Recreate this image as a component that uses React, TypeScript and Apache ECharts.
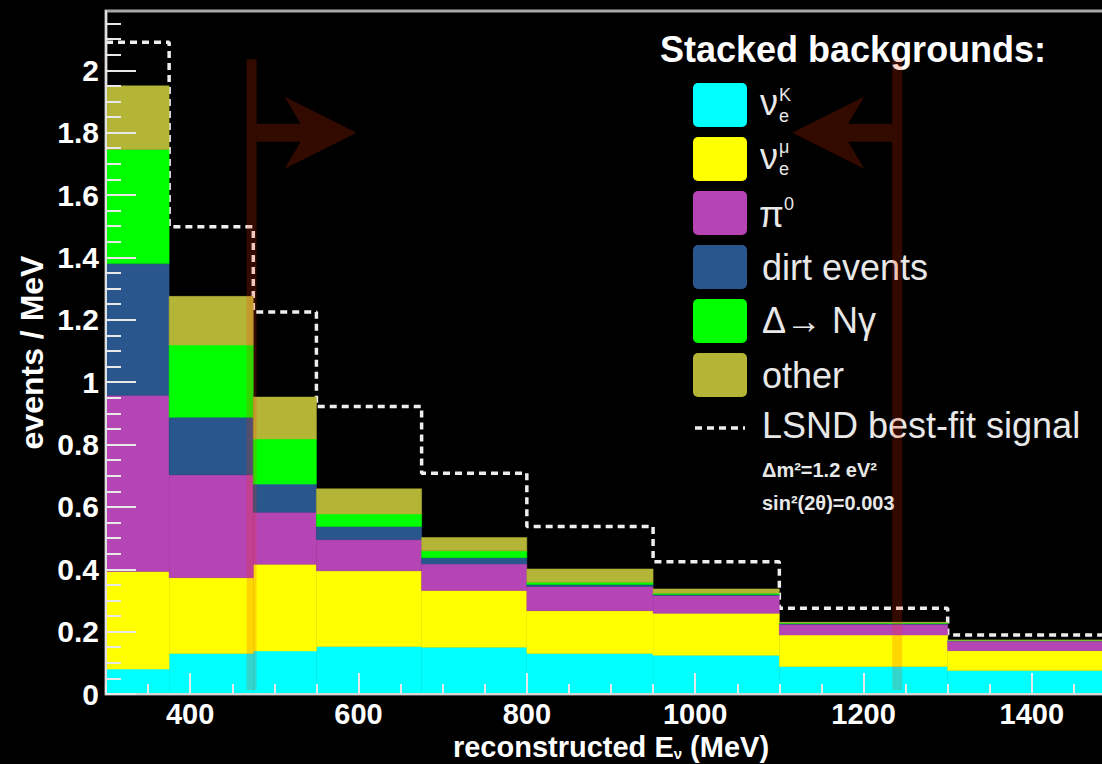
import React, { useEffect, useRef } from "react";
import * as echarts from "echarts";

// ---- data ----
const binEdges = [300, 375, 475, 550, 675, 800, 950, 1100, 1300, 1500];
const nueK = [0.08, 0.13, 0.138, 0.152, 0.15, 0.13, 0.124, 0.088, 0.075];
const nueMu = [0.313, 0.243, 0.278, 0.243, 0.182, 0.137, 0.135, 0.101, 0.064];
const pi0 = [0.565, 0.33, 0.167, 0.1, 0.085, 0.078, 0.057, 0.035, 0.031];
const dirt = [0.422, 0.184, 0.09, 0.042, 0.02, 0.006, 0.003, 0.002, 0.001];
const deltaNGamma = [0.366, 0.232, 0.145, 0.04, 0.022, 0.007, 0.004, 0.002, 0.001];
const other = [0.204, 0.156, 0.134, 0.081, 0.043, 0.043, 0.014, 0.002, 0.001];
const lsndTotal = [2.09, 1.498, 1.225, 0.922, 0.708, 0.537, 0.424, 0.275, 0.189];
const cutEnergies = [473, 1240];
const cutDirections = [1, -1];
const xTickValues = [400, 600, 800, 1000, 1200, 1400];
const yTickValues = [0, 0.2, 0.4, 0.6, 0.8, 1, 1.2, 1.4, 1.6, 1.8, 2];
const seriesNames = ["νeK", "νeμ", "π0", "dirt events", "Δ→ Nγ", "other"];
const seriesColors = ["#00ffff", "#ffff00", "#b544b5", "#29568c", "#00ff00", "#b4b436"];
const seriesValues = [nueK, nueMu, pi0, dirt, deltaNGamma, other];

const FONT = '"Liberation Sans", Arial, Helvetica, sans-serif';

export default function App() {
  const ref = useRef<HTMLDivElement>(null);
  useEffect(() => {
    if (!ref.current) return;
    const chart = echarts.init(ref.current, null, { renderer: "svg" });

    const base = binEdges.slice(0, -1).map(() => 0);
    const barSeries = seriesValues.map((vals, k) => {
      const data = vals.map((v, i) => {
        const lo = base[i];
        const hi = lo + v;
        base[i] = hi;
        return [binEdges[i], binEdges[i + 1], lo, hi];
      });
      const color = seriesColors[k];
      return {
        type: "custom",
        name: seriesNames[k],
        xAxisIndex: 0,
        yAxisIndex: 0,
        z: 2,
        silent: true,
        encode: { x: [0, 1], y: [2, 3] },
        data,
        renderItem: (params: any, api: any) => {
          const p0 = api.coord([api.value(0), api.value(3)]);
          const p1 = api.coord([api.value(1), api.value(2)]);
          return {
            type: "rect",
            shape: { x: p0[0], y: p0[1], width: p1[0] - p0[0], height: p1[1] - p0[1] },
            style: { fill: color, stroke: color, lineWidth: 0.5 },
          };
        },
      };
    });

    const lsndData = binEdges.map((x, i) => [x, lsndTotal[Math.min(i, lsndTotal.length - 1)]]);

    const cutTop = 2.035;
    const cutBottom = 0.013;
    const arrowLevel = 1.8;
    const cutSeries = {
      type: "custom",
      name: "cuts",
      z: 6,
      silent: true,
      encode: { x: 0 },
      data: cutEnergies.map((e, i) => [e, cutDirections[i]]),
      renderItem: (params: any, api: any) => {
        const cx = api.coord([api.value(0), 0])[0];
        const d = api.value(1);
        const yT = api.coord([300, cutTop])[1];
        const yB = api.coord([300, cutBottom])[1];
        const ay = api.coord([300, arrowLevel])[1];
        const sx = cx + d * 5;
        const rel = [
          [0, -9], [44, -9], [28, -36], [100, 0], [28, 36], [44, 9], [0, 9],
        ];
        return {
          type: "group",
          children: [
            {
              type: "polygon",
              shape: { points: rel.map((p) => [sx + d * p[0], ay + p[1]]) },
              style: { fill: "#330a00" },
            },
            {
              type: "rect",
              shape: { x: cx - 5, y: yT, width: 10, height: yB - yT },
              style: { fill: "rgba(255,50,0,0.2)" },
            },
          ],
        };
      },
    };

    const txt = "#e8e8e8";
    const graphic: any[] = [];
    graphic.push({
      type: "text", x: 660, y: 49, z: 5,
      style: { text: "Stacked backgrounds:", fill: "#fff", fontSize: 36, fontWeight: "bold", fontFamily: FONT, verticalAlign: "middle" },
    });
    seriesColors.forEach((c, i) => {
      graphic.push({ type: "rect", z: 5, shape: { x: 693, y: 83 + i * 54, width: 54, height: 44, r: 5 }, style: { fill: c } });
    });
    const t = (text: string, x: number, y: number, size: number, bold = false) =>
      graphic.push({
        type: "text", x, y, z: 5,
        style: { text, fill: txt, fontSize: size, fontWeight: bold ? "bold" : "normal", fontFamily: FONT, verticalAlign: "middle" },
      });
    t("ν", 760, 102, 36);
    t("K", 779, 95, 18);
    t("e", 779, 116, 18);
    t("ν", 760, 156, 36);
    t("μ", 779, 147, 18);
    t("e", 779, 169, 18);
    t("π", 759, 214, 36);
    t("0", 784, 204, 18);
    t("dirt events", 762, 267.5, 36);
    t("Δ→ Nγ", 762, 320, 36);
    t("other", 762, 375, 36);
    graphic.push({
      type: "line", z: 5,
      shape: { x1: 695, y1: 428, x2: 745, y2: 428 },
      style: { stroke: "#eeeeee", lineWidth: 3.5, lineDash: [7, 5] },
    });
    t("LSND best-fit signal", 762, 425, 36);
    t("Δm²=1.2 eV²", 762, 470, 20, true);
    t("sin²(2θ)=0.003", 762, 503, 20, true);

    const tickColor = "#e8e8e8";
    chart.setOption({
      animation: false,
      backgroundColor: "#000",
      grid: {
        left: 106, right: -14, top: 11, bottom: 70,
        outerBoundsMode: "none",
        containLabel: false,
        show: true, borderColor: "#a8a8a8", borderWidth: 3, backgroundColor: "transparent",
      },
      xAxis: [
        {
          type: "value", min: 300, max: 1500, interval: 50, z: 10, position: "bottom",
          axisLine: { show: true, lineStyle: { color: "#d8d8d8", width: 2 } },
          axisTick: { show: true, inside: true, length: 10, lineStyle: { color: tickColor, width: 2 } },
          axisLabel: {
            customValues: xTickValues, color: "#fff", fontSize: 29, lineHeight: 28, fontWeight: "bold", fontFamily: FONT, margin: 6,
            formatter: (v: number) => String(v),
          },
          splitLine: { show: false },
          name: "{a|reconstructed E}{s|ν}{a| (MeV)}",
          nameLocation: "middle",
          nameGap: 37.5,
          nameMoveOverlap: false,
          nameTextStyle: {
            color: "#fff", fontSize: 29, lineHeight: 30, fontWeight: "bold", fontFamily: FONT,
            rich: {
              a: { color: "#fff", fontSize: 29, lineHeight: 30, fontWeight: "bold", fontFamily: FONT },
              s: { color: "#fff", fontSize: 15, lineHeight: 15, fontWeight: "bold", fontFamily: FONT, padding: [13, 0, 0, 0] },
            },
          },
        },
        {
          type: "value", min: 300, max: 1500, interval: 50, z: 10, position: "bottom",
          axisLine: { show: false },
          axisTick: { show: true, inside: true, length: 21, customValues: xTickValues, lineStyle: { color: tickColor, width: 2 } },
          axisLabel: { show: false },
          splitLine: { show: false },
        },
      ],
      yAxis: {
        type: "value", min: 0, max: 2.19, interval: 0.2, z: 10,
        axisLine: { show: true, lineStyle: { color: "#e0e0e0", width: 2 } },
        axisTick: { show: true, inside: true, length: 30, customValues: yTickValues, lineStyle: { color: tickColor, width: 2 } },
        minorTick: { show: true, splitNumber: 4, length: 15, lineStyle: { color: tickColor, width: 2 } },
        axisLabel: {
          customValues: yTickValues, color: "#fff", fontSize: 30, fontWeight: "bold", fontFamily: FONT, margin: 7,
          formatter: (v: number) => String(Math.round(v * 10) / 10),
        },
        splitLine: { show: false },
        name: "events / MeV",
        nameLocation: "middle",
        nameRotate: 90,
        nameGap: 58,
        nameMoveOverlap: false,
        nameTextStyle: { color: "#fff", fontSize: 32, fontWeight: "bold", fontFamily: FONT },
      },
      graphic,
      series: [
        {
          type: "line",
          name: "LSND best-fit signal",
          step: "end",
          z: 1,
          silent: true,
          symbol: "none",
          data: lsndData,
          lineStyle: { color: "#eeeeee", width: 3.5, type: [7, 5] },
        },
        ...barSeries,
        cutSeries,
      ],
    } as any);
    return () => chart.dispose();
  }, []);
  return (
    <div
      ref={ref}
      style={{ position: "absolute", left: 0, top: 0, width: 1102, height: 764, background: "#000" }}
    />
  );
}
